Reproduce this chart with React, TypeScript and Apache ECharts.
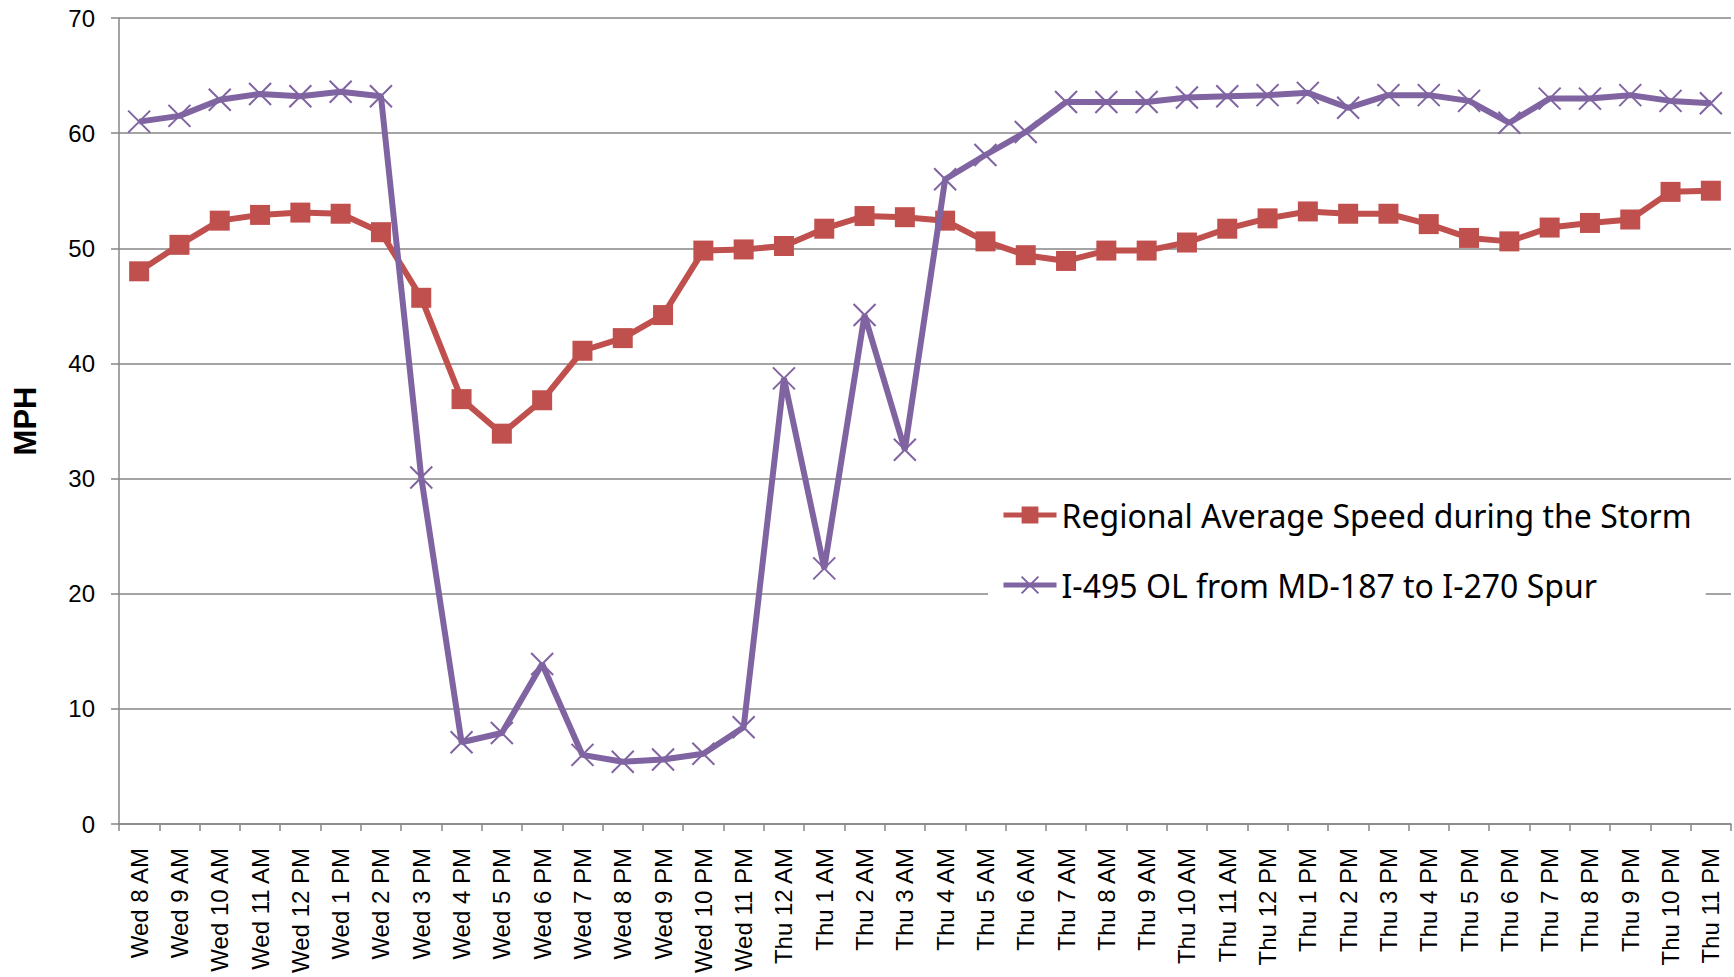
import React, { useEffect, useRef } from "react";
import * as echarts from "echarts";

const categories = [
  "Wed 8 AM", "Wed 9 AM", "Wed 10 AM", "Wed 11 AM", "Wed 12 PM", "Wed 1 PM", "Wed 2 PM", "Wed 3 PM",
  "Wed 4 PM", "Wed 5 PM", "Wed 6 PM", "Wed 7 PM", "Wed 8 PM", "Wed 9 PM", "Wed 10 PM", "Wed 11 PM",
  "Thu 12 AM", "Thu 1 AM", "Thu 2 AM", "Thu 3 AM", "Thu 4 AM", "Thu 5 AM", "Thu 6 AM", "Thu 7 AM",
  "Thu 8 AM", "Thu 9 AM", "Thu 10 AM", "Thu 11 AM", "Thu 12 PM", "Thu 1 PM", "Thu 2 PM", "Thu 3 PM",
  "Thu 4 PM", "Thu 5 PM", "Thu 6 PM", "Thu 7 PM", "Thu 8 PM", "Thu 9 PM", "Thu 10 PM", "Thu 11 PM",
];

const regionalAvg = [
  48.0, 50.3, 52.4, 52.9, 53.1, 53.0, 51.4, 45.7, 36.9, 33.9, 36.8, 41.1, 42.2, 44.2, 49.8, 49.9,
  50.2, 51.7, 52.8, 52.7, 52.4, 50.6, 49.4, 48.9, 49.8, 49.8, 50.5, 51.7, 52.6, 53.2, 53.0, 53.0,
  52.1, 50.9, 50.6, 51.8, 52.2, 52.5, 54.9, 55.0,
];

const i495 = [
  61.0, 61.5, 62.9, 63.4, 63.2, 63.6, 63.2, 30.1, 7.1, 7.9, 13.9, 6.0, 5.4, 5.6, 6.1, 8.4,
  38.7, 22.2, 44.2, 32.5, 56.0, 58.1, 60.1, 62.7, 62.7, 62.7, 63.1, 63.2, 63.3, 63.5, 62.2, 63.3,
  63.3, 62.8, 60.9, 63.0, 63.0, 63.3, 62.8, 62.6,
];

const seriesNames = [
  "Regional Average Speed during the Storm",
  "I-495 OL from MD-187 to I-270 Spur",
];

const yTicks = { min: 0, max: 70, interval: 10 };

const RED = "#C0504D";
const PURPLE = "#8064A2";
const GRID = "#868686";

export default function App() {
  const ref = useRef<HTMLDivElement>(null);

  useEffect(() => {
    if (!ref.current) return;
    const chart = echarts.init(ref.current, null, { renderer: "svg" });
    chart.setOption({
      animation: false,
      backgroundColor: "#ffffff",
      grid: { left: 119, right: 3, top: 18, bottom: 153, containLabel: false },
      legend: {
        orient: "vertical",
        left: 988,
        top: 489,
        padding: [8, 14, 8, 13],
        backgroundColor: "#ffffff",
        itemWidth: 53,
        itemHeight: 21,
        itemGap: 34,
        data: seriesNames,
        lineStyle: { width: 5 },
        textStyle: {
          fontFamily: "Noto Sans",
          fontSize: 32,
          color: "#000000",
          lineHeight: 36,
        },
      },
      xAxis: {
        type: "category",
        data: categories,
        boundaryGap: true,
        axisLine: { show: true, lineStyle: { color: GRID, width: 1.5 } },
        axisTick: { show: true, interval: 0, length: 7, lineStyle: { color: GRID, width: 1.5 } },
        axisLabel: {
          interval: 0,
          rotate: 90,
          margin: 24,
          fontFamily: "Liberation Sans",
          fontSize: 24,
          color: "#000000",
        },
        splitLine: { show: false },
      },
      yAxis: {
        type: "value",
        min: yTicks.min,
        max: yTicks.max,
        interval: yTicks.interval,
        name: "MPH",
        nameLocation: "middle",
        nameRotate: 90,
        nameGap: 78,
        nameTextStyle: {
          fontFamily: "Liberation Sans",
          fontWeight: "bold",
          fontSize: 31,
          color: "#000000",
        },
        axisLine: { show: true, lineStyle: { color: GRID, width: 1.5 } },
        axisTick: { show: true, length: 8, lineStyle: { color: GRID, width: 1.5 } },
        axisLabel: {
          margin: 24,
          fontFamily: "Liberation Sans",
          fontSize: 24,
          color: "#000000",
        },
        splitLine: { show: true, lineStyle: { color: GRID, width: 1.5 } },
      },
      series: [
        {
          name: seriesNames[0],
          type: "line",
          data: regionalAvg,
          symbol: "rect",
          symbolSize: 20,
          lineStyle: { color: RED, width: 6 },
          itemStyle: { color: RED, borderColor: RED, borderWidth: 0 },
          emphasis: { disabled: true },
          z: 2,
        },
        {
          name: seriesNames[1],
          type: "line",
          data: i495,
          symbol: "path://M0,0L20,20M20,0L0,20",
          symbolSize: 22,
          lineStyle: { color: PURPLE, width: 6 },
          itemStyle: { color: "none", borderColor: PURPLE, borderWidth: 2 },
          emphasis: { disabled: true },
          z: 3,
        },
      ],
    });
    return () => chart.dispose();
  }, []);

  return (
    <div
      ref={ref}
      style={{ position: "absolute", left: 0, top: 0, width: 1734, height: 977 }}
    />
  );
}
